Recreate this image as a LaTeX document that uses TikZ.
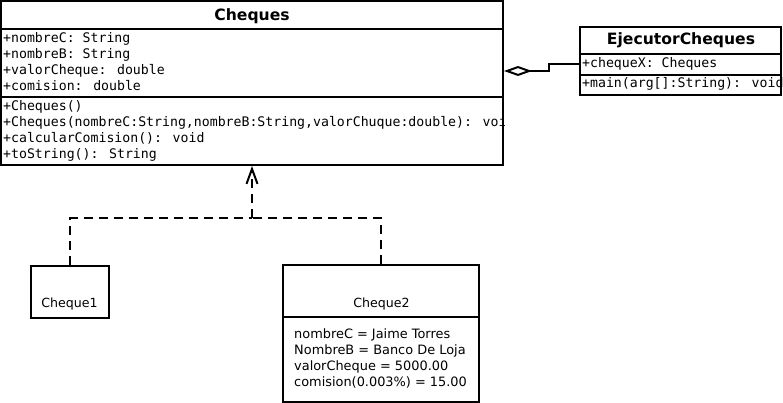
\documentclass[tikz,border=0pt]{standalone}
\usepackage{fontspec}
\setmainfont{DejaVu Sans}
\newfontfamily\monof{DejaVu Sans Mono}
\usetikzlibrary{arrows.meta}
\tikzset{
  umlbox/.style={draw=black, line width=2pt, fill=white, rectangle, inner sep=0pt},
  divider/.style={draw=black, line width=2pt},
  monoline/.style={anchor=base west, inner sep=0pt, font=\monof\fontsize{13.2}{16}\selectfont},
  sansline/.style={anchor=base west, inner sep=0pt, font=\fontsize{12.9}{15}\selectfont},
  titletxt/.style={anchor=base, inner sep=0pt, font=\bfseries\fontsize{15.6}{18}\selectfont},
  objtxt/.style={anchor=base, inner sep=0pt, font=\fontsize{12.6}{15}\selectfont},
  realize/.style={line width=2pt, dash pattern=on 9pt off 6pt},
  aggline/.style={line width=2pt},
}
\begin{document}
\begin{tikzpicture}[x=1pt,y=-1pt]
\fill[white] (0,0) rectangle (783,403);
\useasboundingbox (0,0) rectangle (783,403);

% Cheques class
\node[umlbox, minimum width=502pt, minimum height=164pt] (cheques) at (252,83) {};
\draw[divider] (cheques.north west |- 0,29) -- (cheques.north east |- 0,29);
\draw[divider] (cheques.north west |- 0,97) -- (cheques.north east |- 0,97);
\node[titletxt] (chtitle) at (252,21) {Cheques};
\begin{scope}
\clip (cheques.north west) rectangle (cheques.south east);
\node[monoline] (a1) at (3,43) {+nombreC: String};
\node[monoline] (a2) at (3,59) {+nombreB: String};
\node[monoline] (a3) at (3,75) {+valorCheque: double};
\node[monoline] (a4) at (3,91) {+comision: double};
\node[monoline] (m1) at (3,111) {+Cheques()};
\node[monoline] (m2) at (3,127) {+Cheques(nombreC:String,nombreB:String,valorChuque:double): void};
\node[monoline] (m3) at (3,143) {+calcularComision(): void};
\node[monoline] (m4) at (3,159) {+toString(): String};
\end{scope}

% EjecutorCheques class
\node[umlbox, minimum width=201pt, minimum height=68pt] (ejec) at (680.5,61) {};
\draw[divider] (ejec.north west |- 0,54) -- (ejec.north east |- 0,54);
\draw[divider] (ejec.north west |- 0,75) -- (ejec.north east |- 0,75);
\node[titletxt] (ejtitle) at (681,45) {EjecutorCheques};
\begin{scope}
\clip (ejec.north west) rectangle (ejec.south east);
\node[monoline] (e1) at (582,68) {+chequeX: Cheques};
\node[monoline] (e2) at (582,88) {+main(arg[]:String): void};
\end{scope}

% Cheque1 object
\node[umlbox, minimum width=78pt, minimum height=52pt] (cheque1) at (70,291.5) {};
\node[objtxt] (c1txt) at (69.5,307) {Cheque1};

% Cheque2 object
\node[umlbox, minimum width=196pt, minimum height=137pt] (cheque2) at (381,333.5) {};
\draw[divider] (cheque2.north west |- 0,317) -- (cheque2.north east |- 0,317);
\node[objtxt] (c2txt) at (381.5,307) {Cheque2};
\node[sansline] (v1) at (294,338.5) {nombreC = Jaime Torres};
\node[sansline] (v2) at (294,354.5) {NombreB = Banco De Loja};
\node[sansline] (v3) at (294,370.5) {valorCheque = 5000.00};
\node[sansline] (v4) at (294,386.5) {comision(0.003\%) = 15.00};

% realization connectors
\coordinate (j) at (252,218);
\draw[realize] (cheque1.north) |- (j);
\draw[realize] (cheque2.north) |- (j);
\draw[realize, -{Straight Barb[length=15pt,width=11pt,line width=2pt]}] (j) -- (cheques.south);

% aggregation
\coordinate (bend) at (549,71);
\draw[aggline, -{Diamond[open,fill=white,length=28pt,width=10pt,line width=2pt]}]
  (ejec.west |- 0,64) -| (bend) -- (cheques.east |- 0,71);
\end{tikzpicture}
\end{document}
